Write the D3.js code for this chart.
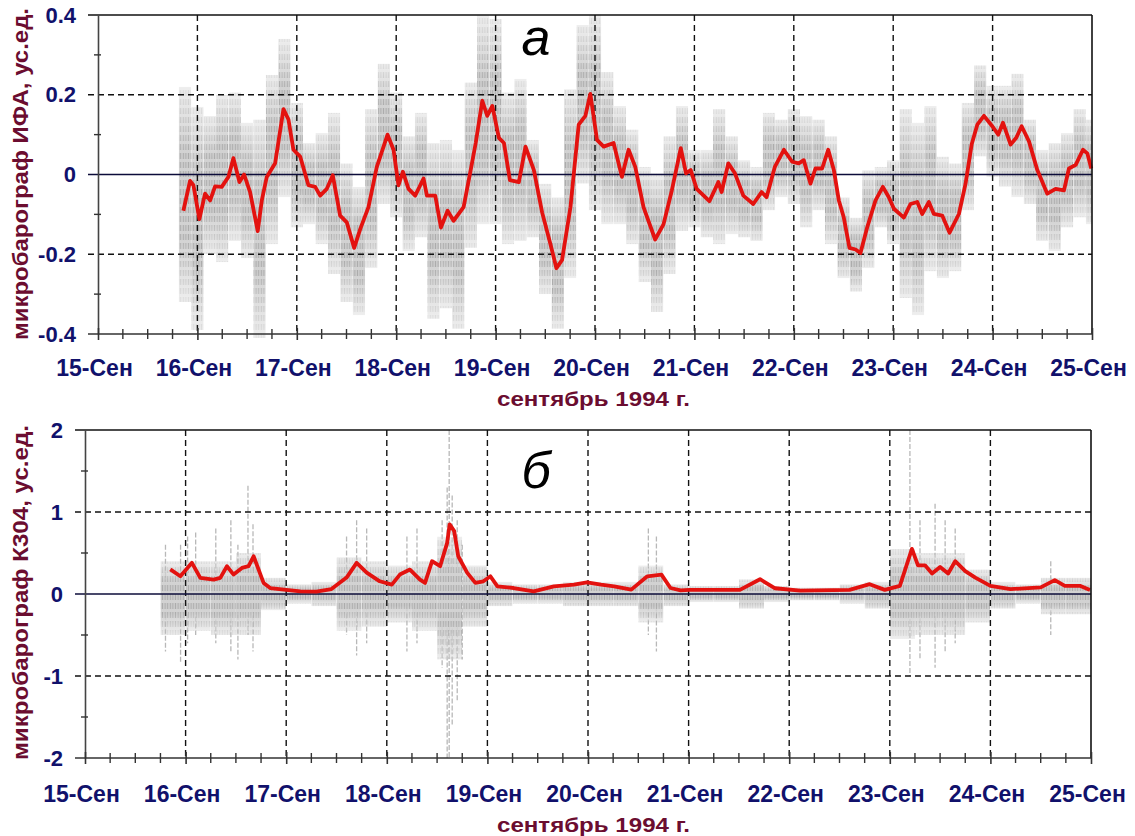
<!DOCTYPE html>
<html>
<head>
<meta charset="utf-8">
<script src="https://cdn.jsdelivr.net/npm/d3@7"></script>
<style>
  body { margin: 0; background: #fff; }
  svg { display: block; font-family: "Liberation Sans", Arial, sans-serif; }
</style>
</head>
<body>
<div id="chart"></div>
<script>
// подписи оси времени (дни от 15 сентября 00:00)
const dayLabels = ['15-Сен', '16-Сен', '17-Сен', '18-Сен', '19-Сен', '20-Сен', '21-Сен', '22-Сен', '23-Сен', '24-Сен', '25-Сен'];

// панель а: микробарограф ИФА, сглаженная кривая
const redTA = [0.859,0.926,0.96,1.02,1.077,1.128,1.178,1.245,1.312,1.362,1.423,1.47,1.53,1.607,1.648,1.698,1.782,1.866,1.916,1.966,2.034,2.117,2.185,2.235,2.302,2.362,2.436,2.503,2.577,2.638,2.721,2.805,2.913,2.973,3.023,3.067,3.124,3.191,3.275,3.309,3.393,3.45,3.517,3.577,3.678,3.762,3.8,3.866,3.916,3.967,4.033,4.084,4.144,4.234,4.301,4.385,4.468,4.552,4.612,4.669,4.753,4.836,4.903,4.953,5.02,5.087,5.187,5.271,5.338,5.405,5.488,5.605,5.689,5.773,5.863,5.916,5.963,6.023,6.151,6.241,6.274,6.341,6.408,6.492,6.592,6.676,6.726,6.809,6.9,6.983,7.05,7.1,7.168,7.218,7.285,7.346,7.403,7.453,7.503,7.56,7.621,7.671,7.738,7.822,7.896,7.956,8.007,8.107,8.174,8.242,8.292,8.359,8.409,8.493,8.567,8.661,8.728,8.789,8.846,8.913,8.997,9.057,9.104,9.181,9.238,9.292,9.366,9.45,9.55,9.634,9.718,9.768,9.836,9.909,9.953,9.993];
const redVA = [-0.091,-0.016,-0.027,-0.112,-0.048,-0.065,-0.03,-0.031,-0.006,0.041,-0.019,0,-0.044,-0.142,-0.065,-0.006,0.028,0.164,0.138,0.062,0.045,-0.027,-0.031,-0.053,-0.036,-0.002,-0.103,-0.12,-0.184,-0.137,-0.082,0.019,0.1,0.062,-0.027,0.007,-0.036,-0.053,-0.01,-0.053,-0.053,-0.133,-0.091,-0.116,-0.082,0.028,0.079,0.185,0.147,0.172,0.092,0.079,-0.014,-0.019,0.07,0.011,-0.095,-0.175,-0.235,-0.214,-0.082,0.125,0.147,0.202,0.087,0.07,0.079,-0.006,0.062,0.019,-0.082,-0.163,-0.125,-0.04,0.066,0.003,0.011,-0.036,-0.067,-0.019,-0.044,0.028,0.003,-0.053,-0.074,-0.044,-0.057,0.019,0.062,0.032,0.028,0.036,-0.023,0.015,0.015,0.062,0.011,-0.065,-0.108,-0.184,-0.188,-0.197,-0.133,-0.065,-0.031,-0.057,-0.086,-0.108,-0.074,-0.069,-0.099,-0.069,-0.099,-0.103,-0.146,-0.099,-0.023,0.075,0.125,0.147,0.121,0.1,0.13,0.075,0.092,0.121,0.083,0.011,-0.048,-0.036,-0.04,0.015,0.024,0.062,0.053,0.015];

// панель а: исходный сигнал, огибающая по интервалам 3 ч (начало 0.8125 сут)
const binStartA = 0.8125, binStepA = 0.125;
const hiA = [0.22,0.17,0.147,0.2,0.206,0.13,0.138,0.25,0.34,0.18,0.079,0.104,0.155,0.028,-0.031,0.164,0.278,0.206,0.096,0.155,0.079,0.087,0.062,0.231,0.40,0.39,0.206,0.24,0.087,-0.023,-0.057,0.214,0.375,0.40,0.257,0.172,0.113,0.019,0.003,0.096,0.172,0.062,0.062,0.164,0.096,0.036,0.019,0.155,0.138,0.164,0.147,0.138,0.096,-0.057,-0.108,0.011,0.019,0.036,0.164,0.13,0.172,0.045,0.028,0.18,0.274,0.223,0.223,0.253,0.138,0.062,0.079,0.104,0.164,0.138];
const loA = [-0.32,-0.39,-0.2,-0.22,-0.167,-0.21,-0.41,-0.175,-0.057,-0.133,-0.125,-0.175,-0.25,-0.32,-0.353,-0.235,-0.074,-0.108,-0.192,-0.158,-0.362,-0.336,-0.387,-0.184,-0.125,-0.125,-0.175,-0.167,-0.158,-0.3,-0.387,-0.26,-0.023,-0.09,-0.125,-0.125,-0.175,-0.27,-0.345,-0.25,-0.142,-0.133,-0.158,-0.175,-0.15,-0.158,-0.167,-0.09,-0.057,-0.074,-0.133,-0.09,-0.175,-0.26,-0.294,-0.235,-0.133,-0.175,-0.31,-0.353,-0.243,-0.26,-0.243,-0.09,0.045,-0.006,-0.031,-0.057,-0.074,-0.167,-0.192,-0.133,-0.108,-0.125];

// панель б: микробарограф К304, сглаженная кривая
const redTB = [0.848,0.948,1.063,1.146,1.278,1.345,1.411,1.477,1.56,1.626,1.676,1.775,1.841,2.0,2.14,2.3,2.45,2.6,2.7,2.8,2.93,3.05,3.13,3.23,3.33,3.38,3.45,3.53,3.6,3.625,3.67,3.71,3.8,3.88,3.96,4.03,4.1,4.26,4.46,4.66,4.86,4.99,5.13,5.26,5.43,5.59,5.73,5.82,5.92,6.01,6.51,6.71,6.86,7.11,7.6,7.8,7.95,8.1,8.22,8.28,8.35,8.42,8.5,8.58,8.65,8.75,8.85,9.0,9.2,9.5,9.64,9.74,9.89,9.99];
const redVB = [0.3,0.216,0.38,0.196,0.175,0.196,0.339,0.237,0.318,0.339,0.46,0.135,0.073,0.05,0.033,0.03,0.06,0.2,0.38,0.26,0.155,0.114,0.237,0.298,0.176,0.135,0.4,0.339,0.624,0.85,0.767,0.46,0.257,0.135,0.155,0.216,0.094,0.073,0.033,0.094,0.114,0.143,0.114,0.094,0.053,0.216,0.237,0.073,0.045,0.05,0.05,0.18,0.07,0.04,0.05,0.12,0.05,0.1,0.55,0.35,0.35,0.25,0.33,0.25,0.4,0.28,0.2,0.1,0.06,0.08,0.17,0.1,0.1,0.05];

// панель б: плотная часть сигнала по интервалам 6 ч (начало 0.75 сут)
const binStartB = 0.75, binStepB = 0.25;
const coreHiB = [0.4,0.4,0.4,0.5,0.2,0.12,0.15,0.45,0.4,0.35,0.4,0.7,0.35,0.15,0.12,0.12,0.15,0.15,0.15,0.35,0.12,0.1,0.1,0.18,0.1,0.08,0.08,0.12,0.15,0.55,0.5,0.5,0.3,0.15,0.12,0.2,0.2];
const coreLoB = [-0.5,-0.45,-0.5,-0.5,-0.2,-0.12,-0.15,-0.45,-0.4,-0.35,-0.45,-0.8,-0.4,-0.15,-0.12,-0.12,-0.15,-0.15,-0.15,-0.35,-0.15,-0.1,-0.1,-0.18,-0.1,-0.08,-0.08,-0.12,-0.18,-0.55,-0.5,-0.5,-0.35,-0.18,-0.12,-0.25,-0.25];
// отдельные выбросы: время, минимум, максимум
const spikeT  = [0.8,0.95,1.02,1.1,1.3,1.45,1.52,1.62,1.67,2.6,2.7,2.8,3.2,3.3,3.55,3.6,3.62,3.65,3.7,3.75,5.6,5.68,8.2,8.3,8.45,8.55,8.65,9.6];
const spikeLo = [-0.7,-0.85,-0.6,-0.5,-0.6,-0.7,-0.8,-0.5,-0.7,-0.5,-0.75,-0.6,-0.7,-0.6,-0.9,-2.0,-2.0,-1.6,-1.3,-0.8,-0.5,-0.7,-1.0,-0.8,-0.9,-0.7,-0.6,-0.5];
const spikeHi = [0.6,0.6,0.7,0.75,0.8,0.9,0.6,1.32,0.85,0.7,0.9,0.8,0.7,0.8,0.9,1.3,2.0,1.2,0.9,0.6,0.8,0.7,2.0,0.9,1.1,0.9,0.8,0.4];

const W = 1135, H = 836;
const svg = d3.select('#chart').append('svg')
    .attr('width', W)
    .attr('height', H);

// штриховка «серого» сигнала и затухание к краям огибающей
const defs = svg.append('defs');
const pat = defs.append('pattern')
    .attr('id', 'noise')
    .attr('patternUnits', 'userSpaceOnUse')
    .attr('width', 2.6)
    .attr('height', 9);
pat.append('rect').attr('width', 2.6).attr('height', 9).attr('fill', '#d2d2d2');
pat.append('line')
    .attr('x1', 1.3).attr('x2', 1.3).attr('y1', 0).attr('y2', 6)
    .attr('stroke', '#acacac').attr('stroke-width', 1.2);

const grad = defs.append('linearGradient')
    .attr('id', 'fadeGrad')
    .attr('x1', 0).attr('x2', 0).attr('y1', 0).attr('y2', 1);
[[0, '#606060'], [0.3, '#ffffff'], [0.7, '#ffffff'], [1, '#606060']].forEach(s => {
    grad.append('stop').attr('offset', s[0]).attr('stop-color', s[1]);
});
defs.append('mask')
    .attr('id', 'fade')
    .attr('maskContentUnits', 'objectBoundingBox')
    .append('rect')
    .attr('width', 1).attr('height', 1)
    .attr('fill', 'url(#fadeGrad)');

const navy = '#11116b';
const maroon = '#6b0d30';
const fmtMinus = f => d => f(d).replace('−', '-');

function drawPanel(cfg) {
    const g = svg.append('g');
    const x = d3.scaleLinear().domain([0, 10]).range([cfg.left, cfg.right]);
    const y = d3.scaleLinear().domain(cfg.yDomain).range([cfg.bottom, cfg.top]);

    // исходный сигнал (серый)
    cfg.drawNoise(g, x, y);

    // горизонтальная сетка
    cfg.gridY.forEach(v => {
        g.append('line')
            .attr('x1', cfg.left - 10).attr('x2', cfg.right)
            .attr('y1', y(v)).attr('y2', y(v))
            .attr('stroke', '#111')
            .attr('stroke-width', 1.4)
            .attr('stroke-dasharray', v === cfg.yDomain[1] ? null : '6,4');
    });
    // вертикальная сетка
    d3.range(1, 10).forEach(d => {
        g.append('line')
            .attr('x1', x(d)).attr('x2', x(d))
            .attr('y1', cfg.top).attr('y2', cfg.bottom)
            .attr('stroke', '#111')
            .attr('stroke-width', 1.4)
            .attr('stroke-dasharray', '6,4');
    });

    // нулевая линия
    g.append('line')
        .attr('x1', cfg.left - 10).attr('x2', cfg.right)
        .attr('y1', y(0)).attr('y2', y(0))
        .attr('stroke', '#0c0c3a').attr('stroke-width', 1.4);

    // сглаженная кривая
    const line = d3.line().x(d => x(d[0])).y(d => y(d[1]));
    g.append('path')
        .datum(d3.zip(cfg.redT, cfg.redV))
        .attr('d', line)
        .attr('fill', 'none')
        .attr('stroke', '#e3120f')
        .attr('stroke-width', 3.8)
        .attr('stroke-linejoin', 'round');

    // рамка справа
    g.append('line')
        .attr('x1', cfg.right).attr('x2', cfg.right)
        .attr('y1', cfg.top).attr('y2', cfg.bottom)
        .attr('stroke', '#111').attr('stroke-width', 1.6);

    // ось Y
    const yAxis = g.append('g')
        .attr('transform', `translate(${cfg.left},0)`)
        .call(d3.axisLeft(y).tickValues(cfg.yTicks).tickSize(0).tickPadding(22).tickFormat(cfg.yFormat));
    yAxis.select('.domain').attr('stroke', '#444').attr('stroke-width', 1.6);
    yAxis.selectAll('text')
        .attr('fill', navy)
        .style('font-size', '22px')
        .style('font-weight', 'bold');
    cfg.yMinor.forEach(v => {
        g.append('line')
            .attr('x1', cfg.left - 4).attr('x2', cfg.left + 3)
            .attr('y1', y(v)).attr('y2', y(v))
            .attr('stroke', '#333').attr('stroke-width', 1.4);
    });

    // ось X
    const xAxis = g.append('g')
        .attr('transform', `translate(0,${cfg.bottom})`)
        .call(d3.axisBottom(x).tickValues(d3.range(0, 11)).tickSize(6).tickPadding(cfg.xPad)
            .tickFormat(d => dayLabels[d]));
    xAxis.select('.domain').remove();
    xAxis.selectAll('.tick line').attr('y1', -6).attr('stroke', '#333').attr('stroke-width', 1.6);
    xAxis.selectAll('text')
        .attr('dx', -4)
        .attr('fill', navy)
        .style('font-size', '23px')
        .style('font-weight', 'bold');
    g.append('line')
        .attr('x1', cfg.left - 10).attr('x2', cfg.right)
        .attr('y1', cfg.bottom).attr('y2', cfg.bottom)
        .attr('stroke', '#333').attr('stroke-width', 1.6);
    d3.range(0, 40).filter(i => i % 4 !== 0).map(i => i / 4).forEach(d => {
        g.append('line')
            .attr('x1', x(d)).attr('x2', x(d))
            .attr('y1', cfg.bottom - 5).attr('y2', cfg.bottom + 5)
            .attr('stroke', '#333').attr('stroke-width', 1.4);
    });

    // подписи
    g.append('text')
        .attr('x', 497).attr('y', cfg.bottom + cfg.titleDy)
        .attr('fill', maroon)
        .attr('textLength', 193)
        .attr('lengthAdjust', 'spacingAndGlyphs')
        .style('font-size', '20px')
        .style('font-weight', 'bold')
        .text('сентябрь 1994 г.');
    g.append('text')
        .attr('transform', `translate(28,${cfg.yTitleEnd}) rotate(-90)`)
        .attr('fill', maroon)
        .attr('textLength', cfg.yTitleLen)
        .attr('lengthAdjust', 'spacingAndGlyphs')
        .style('font-size', '22px')
        .style('font-weight', 'bold')
        .text(cfg.yTitle);
    g.append('text')
        .attr('x', 536).attr('y', cfg.letterY)
        .attr('text-anchor', 'middle')
        .attr('fill', '#000')
        .style('font-size', '52px')
        .style('font-style', 'italic')
        .text(cfg.letter);
}

drawPanel({
    left: 98, right: 1092, top: 15, bottom: 334,
    yDomain: [-0.4, 0.4],
    gridY: [0.4, 0.2, -0.2],
    yTicks: [-0.4, -0.2, 0, 0.2, 0.4],
    yMinor: [-0.3, -0.1, 0.1, 0.3],
    yFormat: fmtMinus(d => d === 0 ? '0' : d3.format('.1f')(d)),
    xPad: 20, titleDy: 72,
    redT: redTA, redV: redVA,
    yTitle: 'микробарограф ИФА, ус.ед.',
    yTitleEnd: 340, yTitleLen: 332,
    letter: 'а', letterY: 55,
    drawNoise: (g, x, y) => {
        g.selectAll('.noise')
            .data(d3.zip(hiA, loA))
            .enter().append('rect')
            .attr('x', (d, i) => x(binStartA + i * binStepA))
            .attr('width', (d, i) => x(Math.min(10, binStartA + (i + 1) * binStepA)) - x(binStartA + i * binStepA))
            .attr('y', d => y(Math.min(0.4, d[0])))
            .attr('height', d => y(d[1]) - y(Math.min(0.4, d[0])))
            .attr('fill', 'url(#noise)')
            .attr('mask', 'url(#fade)');
    }
});

drawPanel({
    left: 85, right: 1091, top: 430, bottom: 758,
    yDomain: [-2, 2],
    gridY: [2, 1, -1],
    yTicks: [-2, -1, 0, 1, 2],
    yMinor: [-1.5, -0.5, 0.5, 1.5],
    yFormat: fmtMinus(d3.format('d')),
    xPad: 22, titleDy: 74,
    redT: redTB, redV: redVB,
    yTitle: 'микробарограф К304, ус.ед.',
    yTitleEnd: 760, yTitleLen: 335,
    letter: 'б', letterY: 488,
    drawNoise: (g, x, y) => {
        g.selectAll('.spike')
            .data(d3.zip(spikeT, spikeLo, spikeHi))
            .enter().append('line')
            .attr('x1', d => x(d[0])).attr('x2', d => x(d[0]))
            .attr('y1', d => y(d[2])).attr('y2', d => y(d[1]))
            .attr('stroke', '#b8b8b8')
            .attr('stroke-width', 1.3)
            .attr('stroke-dasharray', '5,2');
        g.selectAll('.core')
            .data(d3.zip(coreHiB, coreLoB))
            .enter().append('rect')
            .attr('x', (d, i) => x(binStartB + i * binStepB))
            .attr('width', (d, i) => x(binStartB + (i + 1) * binStepB) - x(binStartB + i * binStepB))
            .attr('y', d => y(d[0]))
            .attr('height', d => y(d[1]) - y(d[0]))
            .attr('fill', 'url(#noise)')
            .attr('mask', 'url(#fade)');
    }
});
</script>
</body>
</html>
